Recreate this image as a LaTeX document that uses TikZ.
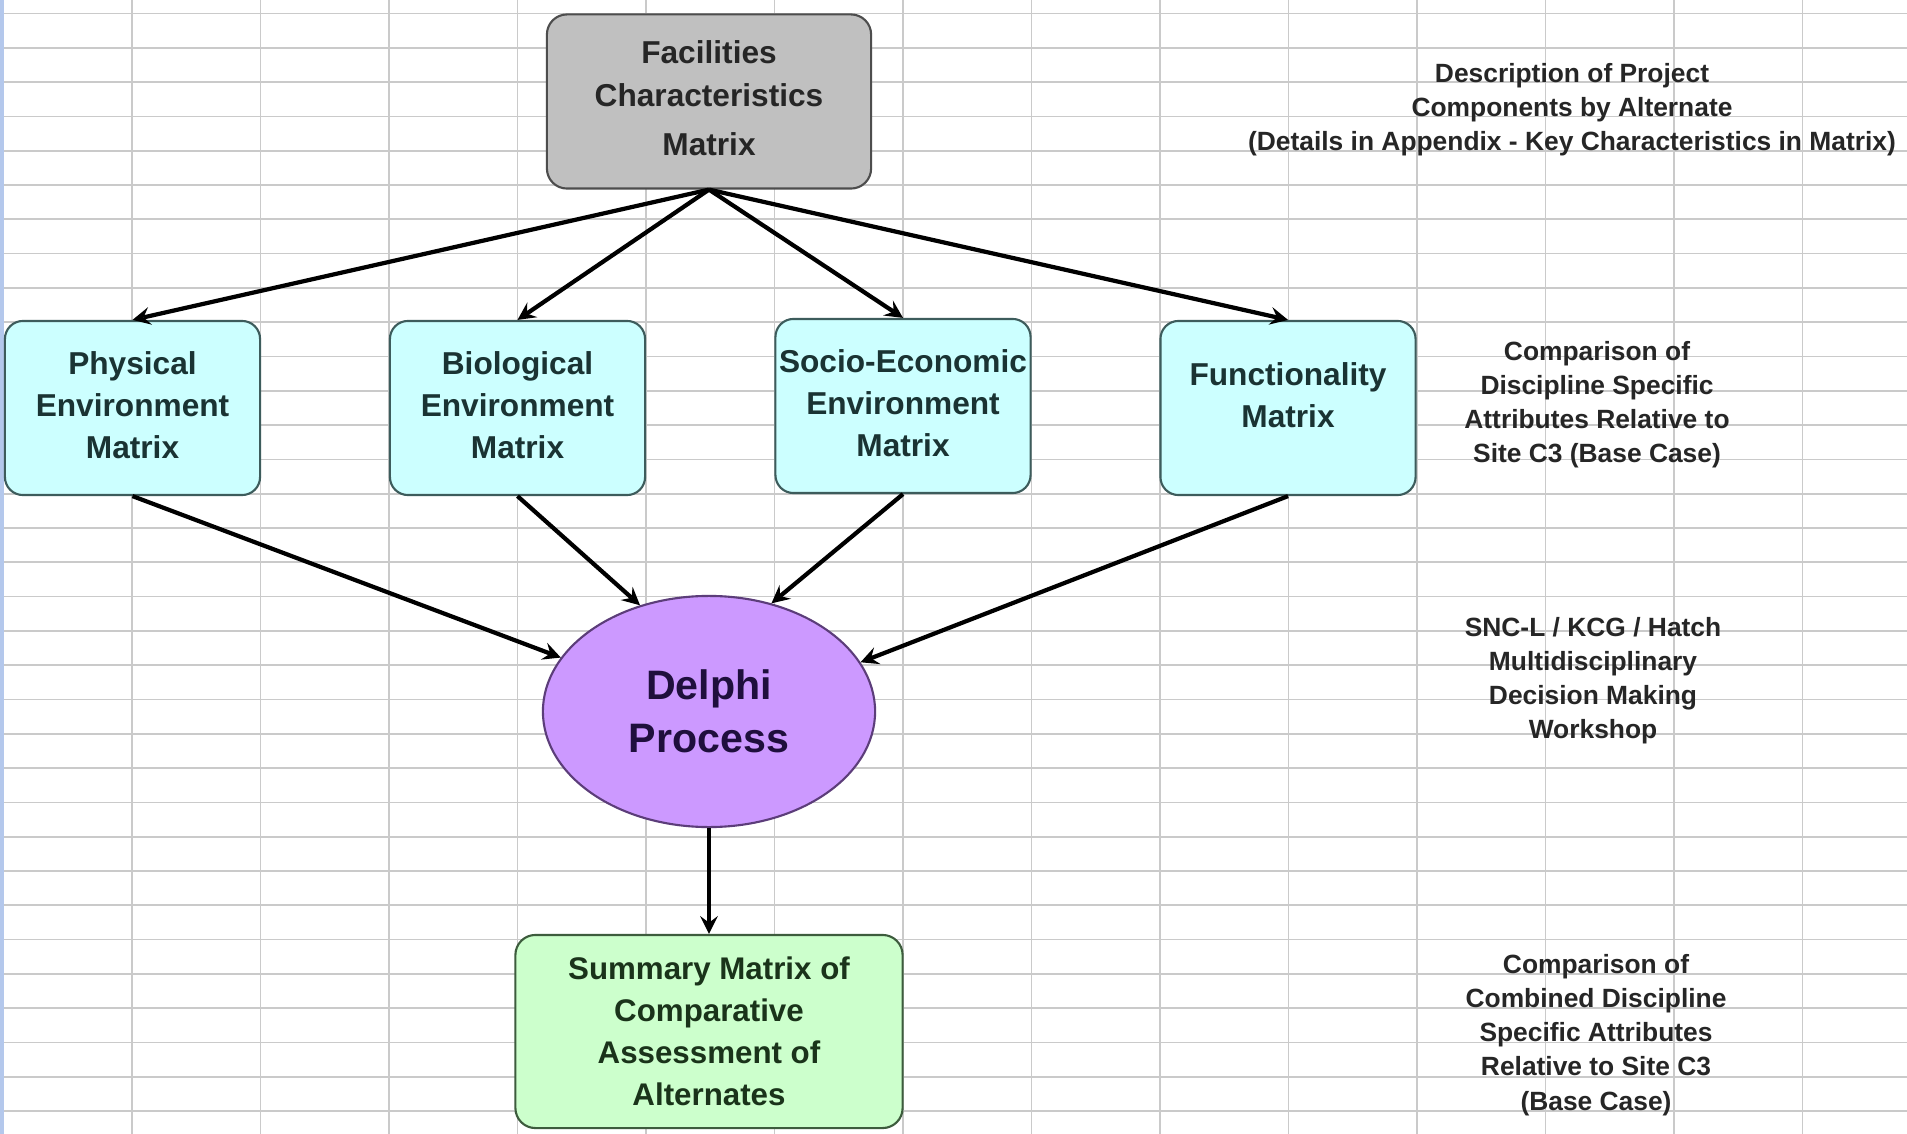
\documentclass[tikz,border=0pt]{standalone}
\usepackage{fontspec}
\setmainfont{Liberation Sans}
\usetikzlibrary{shapes.geometric, arrows}
\definecolor{cellline}{HTML}{CACACA}
\definecolor{winedge}{HTML}{B4C8EC}
\definecolor{facfill}{HTML}{C0C0C0}
\definecolor{facdraw}{HTML}{4D4D4D}
\definecolor{factext}{HTML}{262626}
\definecolor{envfill}{HTML}{CCFFFF}
\definecolor{envdraw}{HTML}{3D5C5C}
\definecolor{envtext}{HTML}{1A3333}
\definecolor{delfill}{HTML}{CC99FF}
\definecolor{deldraw}{HTML}{5C3D7A}
\definecolor{deltext}{HTML}{1F0F3D}
\definecolor{sumfill}{HTML}{CCFFCC}
\definecolor{sumdraw}{HTML}{3D5C3D}
\definecolor{sumtext}{HTML}{1A331A}
\tikzstyle{facbox} = [rectangle, rounded corners=0.2cm, minimum width=3.24cm, minimum height=1.74cm, inner sep=0pt, align=center, draw=facdraw, fill=facfill, text=factext, line width=0.6pt, font=\bfseries\fontsize{9}{11.95}\selectfont]
\tikzstyle{envbox} = [rectangle, rounded corners=0.18cm, minimum width=2.55cm, minimum height=1.74cm, inner sep=0pt, align=center, draw=envdraw, fill=envfill, text=envtext, line width=0.6pt, font=\bfseries\fontsize{9}{11.95}\selectfont]
\tikzstyle{process} = [ellipse, minimum width=3.32cm, minimum height=2.31cm, inner sep=0pt, align=center, draw=deldraw, fill=delfill, text=deltext, line width=0.6pt, font=\bfseries\fontsize{11.7}{15.2}\selectfont]
\tikzstyle{sumbox} = [rectangle, rounded corners=0.2cm, minimum width=3.87cm, minimum height=1.93cm, inner sep=0pt, align=center, draw=sumdraw, fill=sumfill, text=sumtext, line width=0.6pt, font=\bfseries\fontsize{8.9}{11.95}\selectfont]
\tikzstyle{note} = [align=center, inner sep=0pt, text=black!85, font=\bfseries\fontsize{7.5}{9.7}\selectfont]
\tikzstyle{arrow} = [line width=1.2pt,->,>=stealth]

\begin{document}
\begin{tikzpicture}[x=0.01cm, y=-0.01cm]
        \useasboundingbox (0,0) rectangle (1907,1134);
        \fill[white] (0,0) rectangle (1907,1134);
        % spreadsheet grid behind the chart
        \foreach \r in {0,...,32}
            \draw[cellline, line width=0.5pt] (0,{13.5+34.3*\r}) -- (1907,{13.5+34.3*\r});
        \foreach \c in {0,...,13}
            \draw[cellline, line width=0.5pt] ({132+128.5*\c},0) -- ({132+128.5*\c},1134);
        \fill[winedge] (0,0) rectangle (4,1134);

        \node (facil) [facbox] at (709,101.5) {Facilities\\Characteristics\\[2pt]Matrix\\[-10pt]\mbox{}};
        \node (phys) [envbox] at (132.5,408) {Physical\\Environment\\Matrix\\[-10pt]\mbox{}};
        \node (bio) [envbox] at (517.5,408) {Biological\\Environment\\Matrix\\[-10pt]\mbox{}};
        \node (socio) [envbox] at (903,406) {\makebox[2.5cm]{Socio-Economic}\\Environment\\Matrix\\[-10pt]\mbox{}};
        \node (func) [envbox] at (1288,408) {Functionality\\Matrix\\[-4.5pt]\mbox{}};
        \node (delphi) [process] at (709,711.5) {Delphi\\Process};
        \node (summary) [sumbox] at (709,1031.5) {Summary Matrix of\\Comparative\\Assessment of\\Alternates};

        \node (note1) [note] at (1572,109.5) {Description of Project\\Components by Alternate\\(Details in Appendix - Key Characteristics in Matrix)};
        \node (note2) [note] at (1597,405) {Comparison of\\Discipline Specific\\Attributes Relative to\\Site C3 (Base Case)};
        \node (note3) [note] at (1593,681) {SNC-L / KCG / Hatch\\Multidisciplinary\\Decision Making\\Workshop};
        \node (note4) [note] at (1596,1035) {Comparison of\\Combined Discipline\\Specific Attributes\\Relative to Site C3\\(Base Case)};

        \draw [arrow] (facil.south) -- (phys.north);
        \draw [arrow] (facil.south) -- (bio.north);
        \draw [arrow] (facil.south) -- (socio.north);
        \draw [arrow] (facil.south) -- (func.north);
        \draw [arrow] (phys.south) -- (delphi.160);
        \draw [arrow] (bio.south) -- (delphi.123);
        \draw [arrow] (socio.south) -- (delphi.60);
        \draw [arrow] (func.south) -- (delphi.18);
        \draw [arrow] (delphi) -- (summary);
\end{tikzpicture}
\end{document}
